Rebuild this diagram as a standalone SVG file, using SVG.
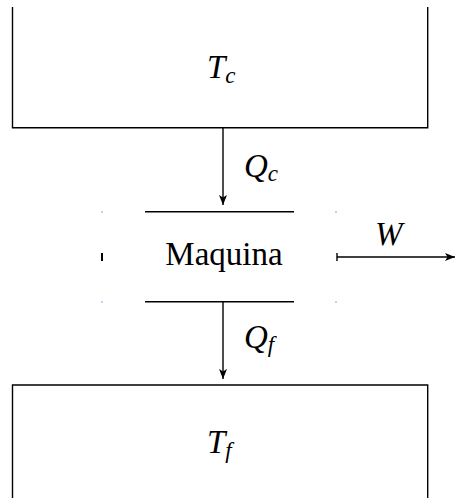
<svg xmlns="http://www.w3.org/2000/svg" width="455" height="498" viewBox="0 0 455 498">
<style>
.ln{stroke:#000;stroke-width:1.4;fill:none}
text{font-family:'Liberation Serif','Times New Roman',serif;fill:#000}
.m{font-style:italic}
.dot{fill:#33f}
</style>
<defs>
<marker id="ah" markerWidth="10" markerHeight="8" refX="10" refY="4" orient="auto" markerUnits="userSpaceOnUse">
<path d="M0,0 L10,4 L0,8 L2.5,4 Z" fill="#000"/>
</marker>
</defs>
<g id="hot">
<path class="ln" d="M12.5,7 V127.7 H427.7 V7"/>
<text class="m" x="207" y="78" font-size="33">T<tspan font-size="23" dy="5">c</tspan></text>
</g>
<g id="cold">
<path class="ln" d="M12.5,498 V385 H427.7 V498"/>
<text class="m" x="207" y="453" font-size="33">T<tspan font-size="23" dy="5">f</tspan></text>
</g>
<g id="engine">
<line class="ln" x1="145" y1="211.7" x2="294" y2="211.7"/>
<line class="ln" x1="145" y1="301.7" x2="294" y2="301.7"/>
<text x="224" y="265" font-size="33" text-anchor="middle">Maquina</text>
<rect class="dot" x="101.5" y="211.5" width="1" height="1"/>
<rect class="dot" x="335.5" y="211.5" width="1" height="1"/>
<rect class="dot" x="101.5" y="301.5" width="1" height="1"/>
<rect class="dot" x="335.5" y="301.5" width="1" height="1"/>
<rect x="101" y="253" width="2" height="8" fill="#000"/>
</g>
<g id="connectors">
<line class="ln" x1="223" y1="128" x2="223" y2="205" marker-end="url(#ah)"/>
<text class="m" x="244" y="177" font-size="33">Q<tspan font-size="23" dy="4">c</tspan></text>
<line class="ln" x1="223" y1="302" x2="223" y2="379" marker-end="url(#ah)"/>
<text class="m" x="244" y="348" font-size="33">Q<tspan font-size="23" dy="4">f</tspan></text>
<line class="ln" x1="337" y1="257" x2="455" y2="257" marker-end="url(#ah)"/>
<line class="ln" x1="337" y1="253" x2="337" y2="261"/>
<text class="m" x="375" y="245" font-size="33">W</text>
</g>
</svg>
